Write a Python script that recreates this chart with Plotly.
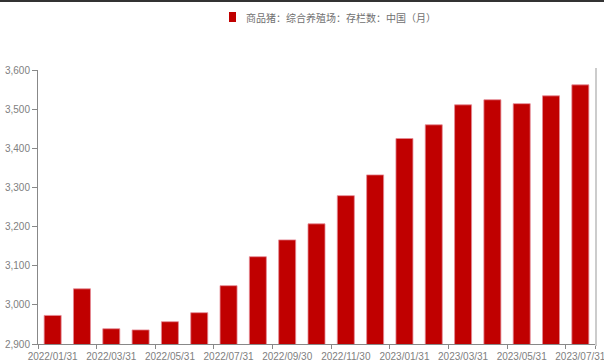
import plotly.graph_objects as go

# Monthly end-of-month dates
months = [
    "2022/01/31", "2022/02/28", "2022/03/31", "2022/04/30", "2022/05/31",
    "2022/06/30", "2022/07/31", "2022/08/31", "2022/09/30", "2022/10/31",
    "2022/11/30", "2022/12/31", "2023/01/31", "2023/02/28", "2023/03/31",
    "2023/04/30", "2023/05/31", "2023/06/30", "2023/07/31",
]
# Hog inventory, integrated farms, China (monthly)
inventory = [
    2973, 3041, 2939, 2936, 2957, 2980, 3049, 3123, 3166, 3207,
    3279, 3332, 3425, 3460, 3511, 3524, 3514, 3534, 3562,
]
series_name = "商品猪：综合养殖场：存栏数：中国（月）"
bar_color = "#c00000"

W, H = 604, 363
L, R, T, B = 38, 9, 70, 19
pw, ph = W - L - R, H - T - B

def px_x(p):
    return (p - L) / pw

def px_y(p):
    return (H - B - p) / ph

fig = go.Figure()
fig.add_trace(go.Bar(
    x=months, y=inventory, name=series_name,
    marker=dict(color=bar_color, line=dict(color="#e58a96", width=0.8)),
    width=0.58, showlegend=False,
))

tick_font = dict(family="Liberation Sans Narrow, Arial Narrow, Liberation Sans, sans-serif",
                 size=10, color="#808080")

fig.update_layout(
    width=W, height=H,
    margin=dict(l=L, r=R, t=T, b=B),
    paper_bgcolor="white", plot_bgcolor="white",
    font=tick_font,
    showlegend=False,
    xaxis=dict(
        type="category", range=[-0.5, len(months) - 0.5],
        tickmode="array", tickvals=months[::2], ticktext=months[::2],
        tickson="boundaries", ticks="outside", ticklen=4, tickcolor="#888888",
        showline=True, linecolor="#888888", linewidth=1,
        showgrid=False, tickangle=0, tickfont=tick_font, automargin=False,
        ticklabelstandoff=3,
    ),
    yaxis=dict(
        range=[2900, 3600], dtick=100, tickformat=",",
        ticks="outside", ticklen=5, tickcolor="#888888",
        showline=True, linecolor="#888888", linewidth=1,
        showgrid=False, zeroline=False, tickfont=tick_font, automargin=False,
    ),
    shapes=[
        # dark strip along the top edge
        dict(type="rect", xref="paper", yref="paper",
             x0=px_x(0), x1=px_x(W), y0=px_y(2), y1=px_y(0),
             fillcolor="#333333", line=dict(width=0), layer="above"),
        # light frame line on the right
        dict(type="line", xref="paper", yref="paper",
             x0=px_x(596), x1=px_x(596), y0=px_y(346), y1=px_y(68),
             line=dict(color="#cccccc", width=2)),
        # legend swatch
        dict(type="rect", xref="paper", yref="paper",
             x0=px_x(229), x1=px_x(236), y0=px_y(22), y1=px_y(12),
             fillcolor=bar_color, line=dict(width=0)),
    ],
    annotations=[
        dict(text=series_name, xref="paper", yref="paper",
             x=px_x(244), y=px_y(17), xanchor="left", yanchor="middle",
             showarrow=False,
             font=dict(family="Noto Sans CJK SC, sans-serif", size=10, color="#707070")),
    ],
)

fig.write_html("out.html")
